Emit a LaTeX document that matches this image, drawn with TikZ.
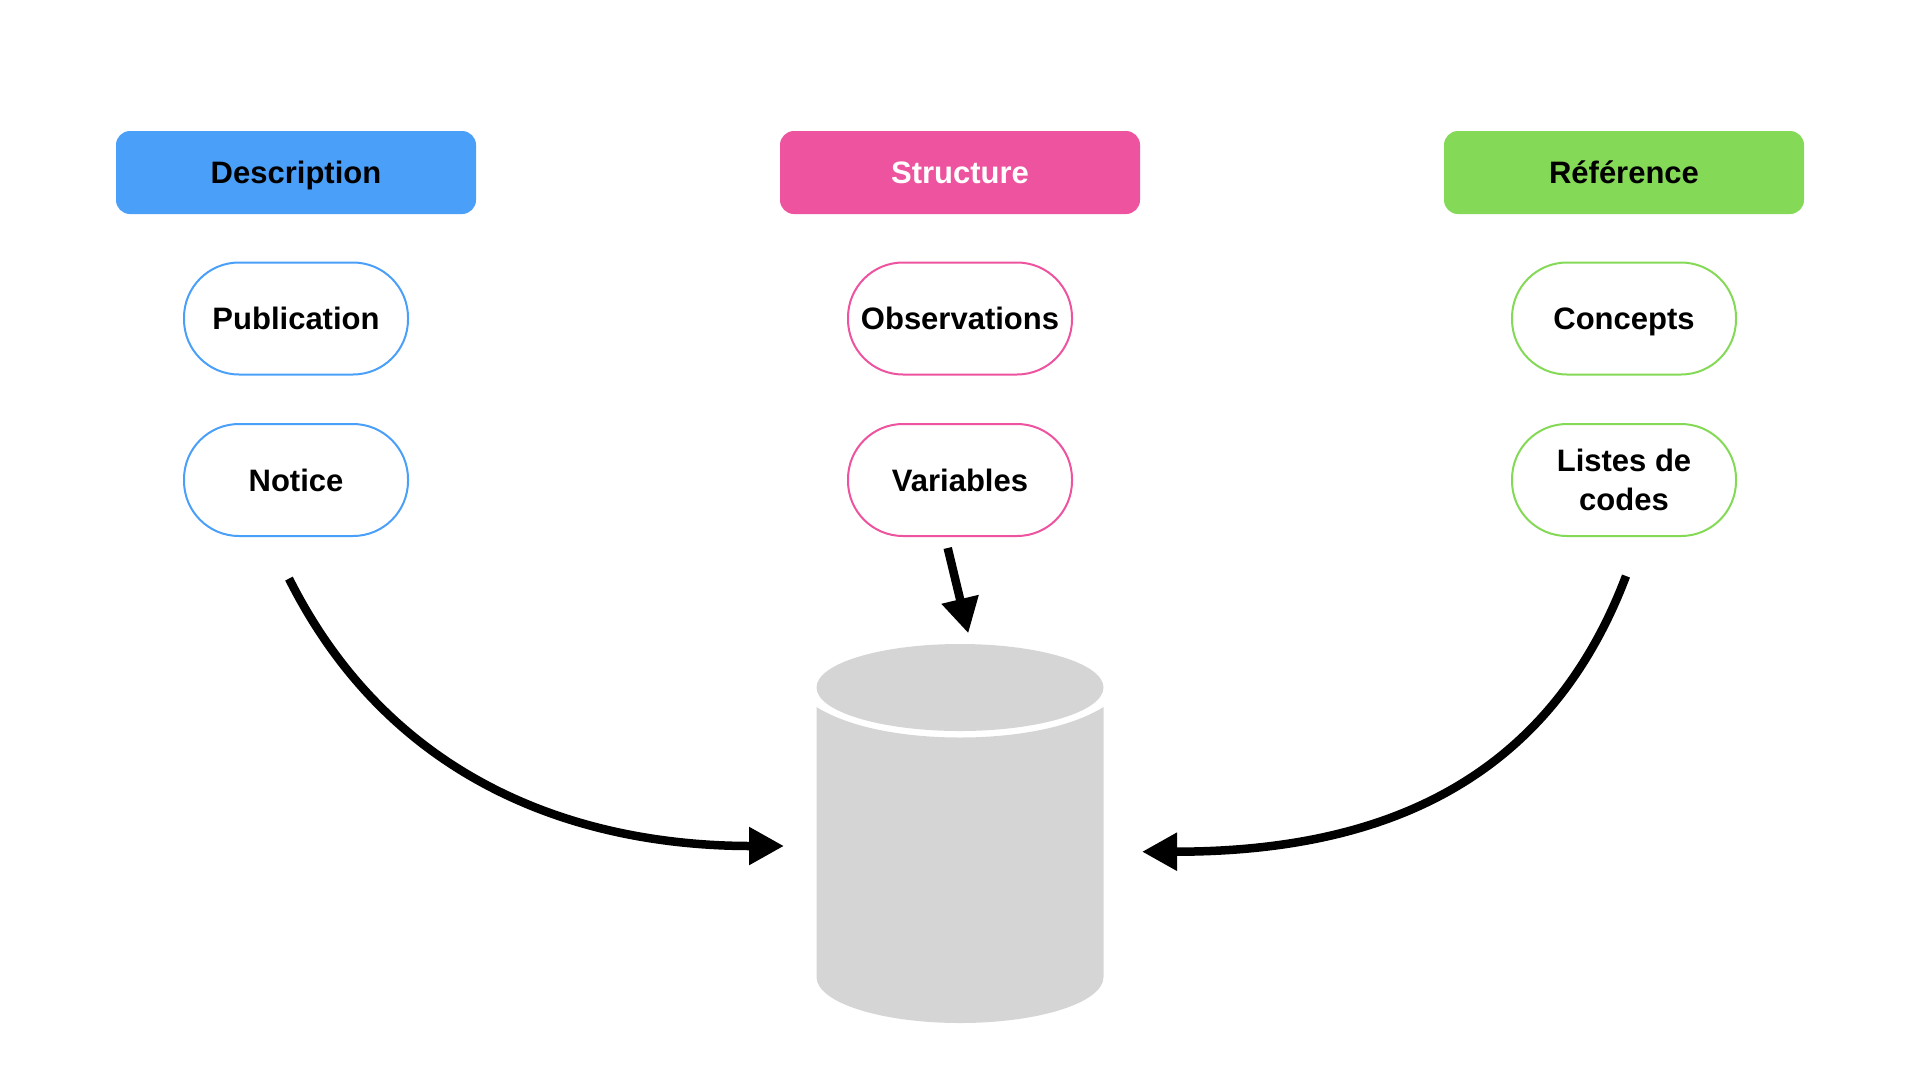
\documentclass[tikz,border=0pt]{standalone}
\usepackage{fontspec}
\setmainfont{Liberation Sans}
\usepackage{tikz}
\usetikzlibrary{arrows.meta}
\definecolor{descriptionColor}{RGB}{74,159,249}
\definecolor{structureColor}{RGB}{237,83,158}
\definecolor{referenceColor}{RGB}{132,217,87}
\definecolor{cylinderColor}{RGB}{213,213,213}
\tikzstyle{diagram} = [x = 1pt, y = -1pt, every node/.style={font=\fontsize{31}{38.5}\selectfont\bfseries, inner sep=0pt}]
\tikzstyle{singleLine} = [text height = 22pt, text depth = 0pt]
\tikzstyle{headerStyle} = [singleLine, minimum width = 360pt, minimum height = 83pt, rounded corners = 14pt]
\tikzstyle{pillStyle} = [minimum width = 224pt, minimum height = 112pt, rounded corners = 55pt, line width = 2pt, fill = white, align = center]
\tikzstyle{flowArrow} = [line width = 8.5pt, -{Triangle[length=35pt, width=36pt]}]
\newcommand{\headerNode}[5]{\node [headerStyle, fill = #2, text = #3] (#1) at (#4, 172.5) {#5};}
\newcommand{\pillNode}[5]{\node [pillStyle, draw = #2, #3] (#1) at (#4) {#5};}

\begin{document}
\begin{tikzpicture}[diagram]
  \useasboundingbox (0,0) rectangle (1920,1080);

  \headerNode{descriptionHeader}{descriptionColor}{black}{296}{Description}
  \pillNode{publicationPill}{descriptionColor}{singleLine}{296, 318.5}{Publication}
  \pillNode{noticePill}{descriptionColor}{singleLine}{296, 480}{Notice}

  \headerNode{structureHeader}{structureColor}{white}{960}{Structure}
  \pillNode{observationsPill}{structureColor}{singleLine}{960, 318.5}{Observations}
  \pillNode{variablesPill}{structureColor}{singleLine}{960, 480}{Variables}

  \headerNode{referenceHeader}{referenceColor}{black}{1624}{Référence}
  \pillNode{conceptsPill}{referenceColor}{singleLine}{1624, 318.5}{Concepts}
  \pillNode{codesPill}{referenceColor}{}{1624, 480}{Listes de\\codes}

  % database
  \fill [cylinderColor] (960, 687.5) ellipse [x radius = 143.5, y radius = 43.5];
  \fill [cylinderColor] (816.5, 707) .. controls (850, 728) and (905, 737.5) .. (960, 737.5)
    .. controls (1015, 737.5) and (1070, 728) .. (1103.5, 707) -- (1103.5, 977)
    .. controls (1103.5, 1002.4) and (1039.5, 1023) .. (960, 1023)
    .. controls (880.5, 1023) and (816.5, 1002.4) .. (816.5, 977) -- cycle;

  \coordinate (noticeOut) at (289, 578.6);
  \coordinate (noticeIn) at (784, 846);
  \coordinate (variablesOut) at (947.7, 548);
  \coordinate (variablesIn) at (968.3, 633.3);
  \coordinate (codesOut) at (1626, 576);
  \coordinate (codesIn) at (1142, 851.7);

  \draw [flowArrow] (noticeOut) .. controls (395, 790) and (590, 846) .. (noticeIn);
  \draw [flowArrow] (variablesOut) -- (variablesIn);
  \draw [flowArrow] (codesOut) .. controls (1545, 790) and (1370, 851.7) .. (codesIn);
\end{tikzpicture}
\end{document}
